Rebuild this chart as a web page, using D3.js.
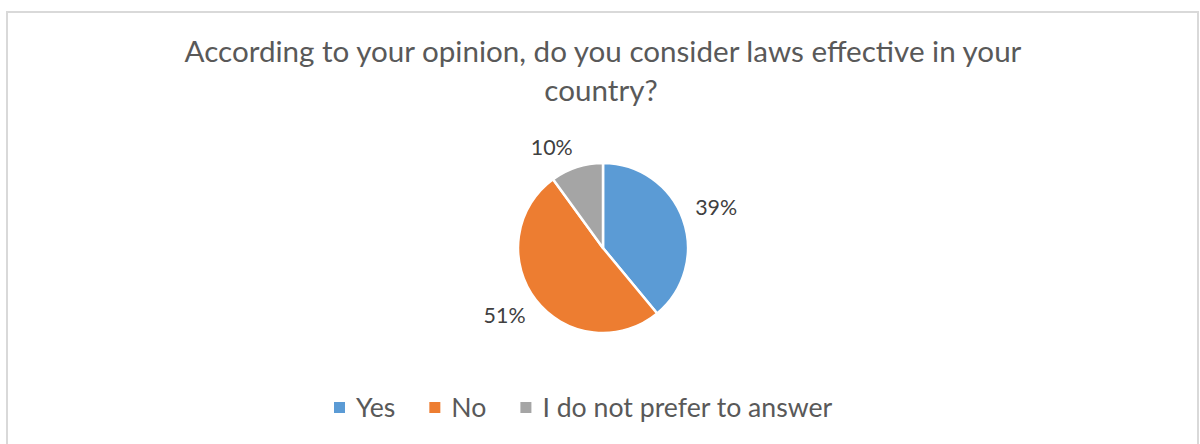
<!DOCTYPE html>
<html>
<head>
<meta charset="utf-8">
<script src="https://cdn.jsdelivr.net/npm/d3@7"></script>
<style>
  html, body { margin: 0; padding: 0; background: #ffffff; }
  svg { display: block; }
  text { font-family: Lato, "Open Sans", "Liberation Sans", sans-serif; }
</style>
</head>
<body>
<svg id="chart" width="1200" height="444"></svg>
<script>
// Survey answers
const categories = ["Yes", "No", "I do not prefer to answer"];
const shares = [39, 51, 10];
const colors = ["#5B9BD5", "#ED7D31", "#A5A5A5"];
const titleLines = ["According to your opinion, do you consider laws effective in your", "country?"];

const W = 1200, H = 444;
const svg = d3.select("#chart");

// Chart frame
svg.append("rect")
  .attr("x", 7).attr("y", 12)
  .attr("width", 1191).attr("height", 460)
  .attr("fill", "#ffffff")
  .attr("stroke", "#d9d9d9")
  .attr("stroke-width", 2);

// Scale a text element's font size so it spans the wanted width
function fitSize(sel, width, start) {
  sel.style("font-size", start + "px");
  const len = sel.node().getComputedTextLength();
  return start * width / len;
}

// Title
const cx = 603;
const title = svg.append("g").attr("fill", "#595959");
const t1 = title.append("text").attr("x", cx).attr("y", 62)
  .attr("text-anchor", "middle").text(titleLines[0]);
const titleSize = fitSize(t1, 837, 24);
t1.style("font-size", titleSize + "px");
title.append("text").attr("x", cx - 2).attr("y", 101)
  .attr("text-anchor", "middle")
  .style("font-size", titleSize + "px")
  .text(titleLines[1]);

// Pie
const cy = 248, r = 85;
const pie = d3.pie().sort(null).value(d => d.value);
const arcs = pie(categories.map((c, i) => ({ name: c, value: shares[i], color: colors[i] })));
const arc = d3.arc().innerRadius(0).outerRadius(r);

const g = svg.append("g").attr("transform", `translate(${cx},${cy})`);
g.selectAll("path.slice")
  .data(arcs)
  .join("path")
  .attr("class", "slice")
  .attr("d", arc)
  .attr("fill", d => d.data.color)
  .attr("stroke", "#ffffff")
  .attr("stroke-width", 2.5)
  .attr("stroke-linejoin", "round");

// Percentage labels placed just outside each slice
const probe = svg.append("text").text("39%");
const labelSize = fitSize(probe, 42, 18);
probe.remove();
const pad = 13, boxH = labelSize * 0.72;
const labels = g.selectAll("text.pct")
  .data(arcs)
  .join("text")
  .attr("class", "pct")
  .attr("fill", "#404040")
  .attr("text-anchor", "middle")
  .style("font-size", labelSize + "px")
  .text(d => d3.format(".0f")(d.data.value) + "%");
labels.each(function (d) {
  const a = (d.startAngle + d.endAngle) / 2;
  const s = Math.sin(a), c = -Math.cos(a);
  const ax = s * (r + pad), ay = c * (r + pad);
  const w = this.getComputedTextLength();
  const mx = ax + Math.sign(s) * w / 2;
  const my = ay + Math.sign(c) * boxH / 2;
  d3.select(this).attr("x", mx).attr("y", my + boxH / 2);
});

// Legend
const legend = svg.append("g");
const lp = svg.append("text").text(categories[2]);
const legendSize = fitSize(lp, 290, 24);
lp.remove();
const sq = 11, textGap = 11, itemGap = 34, legendBase = 417;
let lx = 334;
categories.forEach((c, i) => {
  legend.append("rect")
    .attr("x", lx).attr("y", legendBase - 15)
    .attr("width", sq).attr("height", sq)
    .attr("fill", colors[i]);
  const t = legend.append("text")
    .attr("x", lx + sq + textGap).attr("y", legendBase)
    .attr("fill", "#595959")
    .style("font-size", legendSize + "px")
    .text(c);
  lx += sq + textGap + t.node().getComputedTextLength() + itemGap;
});
</script>
</body>
</html>
